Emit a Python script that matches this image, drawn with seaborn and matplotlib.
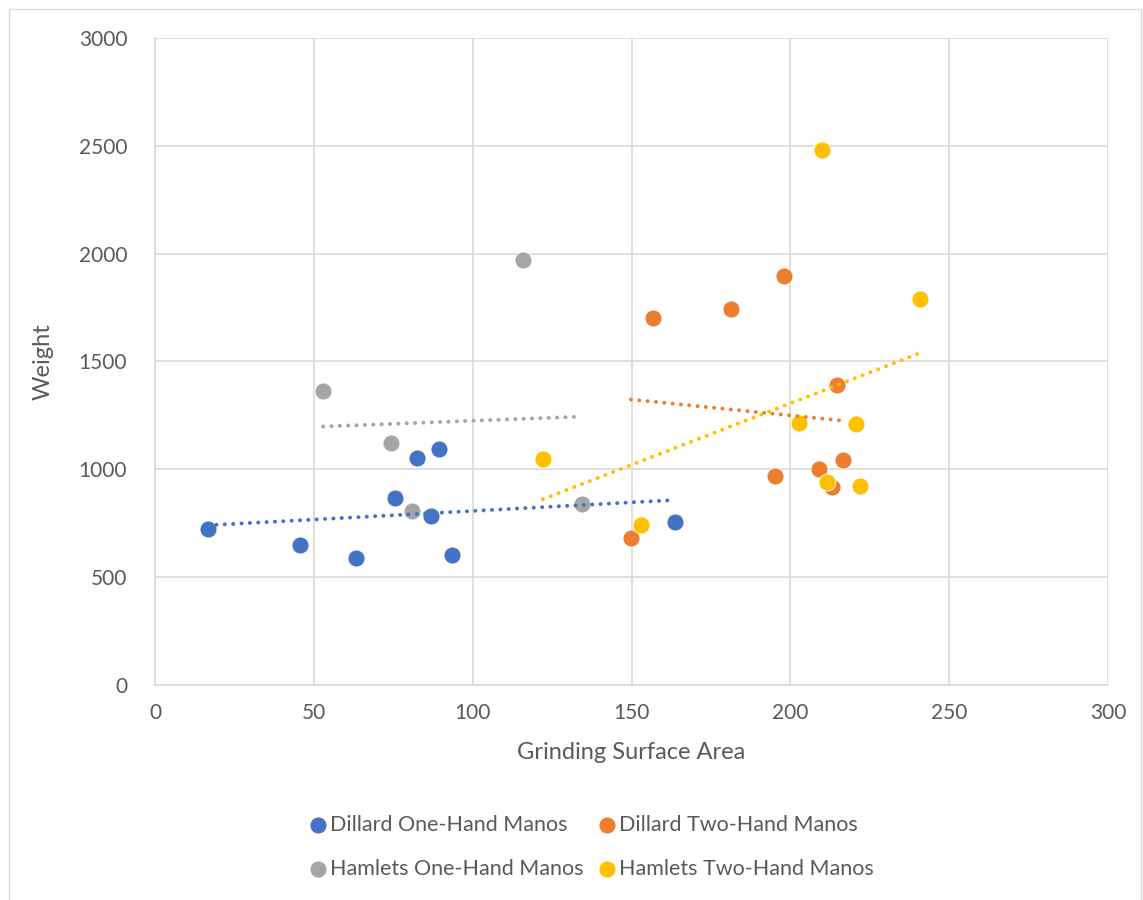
import numpy as np
import matplotlib.pyplot as plt
import seaborn as sns

sns.set_theme(style="white")
plt.rcParams['font.family'] = ['Lato', 'DejaVu Sans']

# Grinding surface area vs weight
dillard_one_x = [16.7, 45.6, 63.3, 75.5, 82.5, 89.4, 86.9, 93.5, 163.7]
dillard_one_y = [723, 649, 589, 867, 1052, 1094, 784, 603, 756]

dillard_two_x = [149.8, 156.8, 181.3, 198.0, 195.2, 209.0, 216.5, 213.1, 214.6]
dillard_two_y = [682, 1702, 1743, 1896, 969, 1002, 1043, 918, 1391]

hamlets_one_x = [52.9, 74.3, 80.9, 115.8, 134.4]
hamlets_one_y = [1363, 1122, 807, 1971, 839]

hamlets_two_x = [122.1, 153.0, 210.0, 240.8, 202.7, 220.6, 211.5, 221.9]
hamlets_two_y = [1048, 742, 2481, 1790, 1215, 1210, 941, 923]

series = [
    ("Dillard One-Hand Manos", dillard_one_x, dillard_one_y, "#4472C4"),
    ("Dillard Two-Hand Manos", dillard_two_x, dillard_two_y, "#ED7D31"),
    ("Hamlets One-Hand Manos", hamlets_one_x, hamlets_one_y, "#A5A5A5"),
    ("Hamlets Two-Hand Manos", hamlets_two_x, hamlets_two_y, "#FFC000"),
]

fig = plt.figure(figsize=(11.43, 9), dpi=100)
ax = fig.add_axes([0.1356, 0.2389, 0.8338, 0.7189])

for name, xs, ys, col in series:
    sns.scatterplot(x=xs, y=ys, ax=ax, color=col, s=150, edgecolor="white",
                    linewidth=0.6, label=name, zorder=3)
    # linear trendline over the series' own x range
    m, b = np.polyfit(xs, ys, 1)
    xr = np.array([min(xs), max(xs)])
    ax.plot(xr, m * xr + b, color=col, linewidth=2.8, linestyle=(0, (0.05, 2.1)),
            dash_capstyle="round", zorder=4)

ax.set_xlim(0, 300)
ax.set_ylim(0, 3000)
ax.set_xticks(range(0, 301, 50))
ax.set_yticks(range(0, 3001, 500))
ax.grid(True, color="#D9D9D9", linewidth=1.2)
ax.set_axisbelow(True)
for side in ["top", "right"]:
    ax.spines[side].set_visible(False)
for side in ["left", "bottom"]:
    ax.spines[side].set_color("#D9D9D9")
    ax.spines[side].set_linewidth(1.2)
ax.tick_params(axis="y", labelsize=15, colors="#595959", length=0, pad=20)
ax.tick_params(axis="x", labelsize=15, colors="#595959", length=0, pad=13)
ax.set_xlabel("Grinding Surface Area", fontsize=17, color="#595959", labelpad=14)
ax.set_ylabel("Weight", fontsize=17, color="#595959", labelpad=18)

h, l = ax.get_legend_handles_labels()
ax.legend_.remove()
order = [0, 2, 1, 3]
fig.legend([h[i] for i in order], [l[i] for i in order], ncol=2,
           loc="center", bbox_to_anchor=(0.512, 0.059), frameon=False,
           fontsize=15.5, labelcolor="#595959", handletextpad=-0.45,
           columnspacing=0.1, labelspacing=1.1, markerscale=1.0)

# light outer frame like the chart area border
fig.patches.append(plt.Rectangle((0.008, -0.01), 0.99, 1.0, transform=fig.transFigure,
                                 fill=False, edgecolor="#D9D9D9", linewidth=1))

fig.savefig("out.png", dpi=100)
